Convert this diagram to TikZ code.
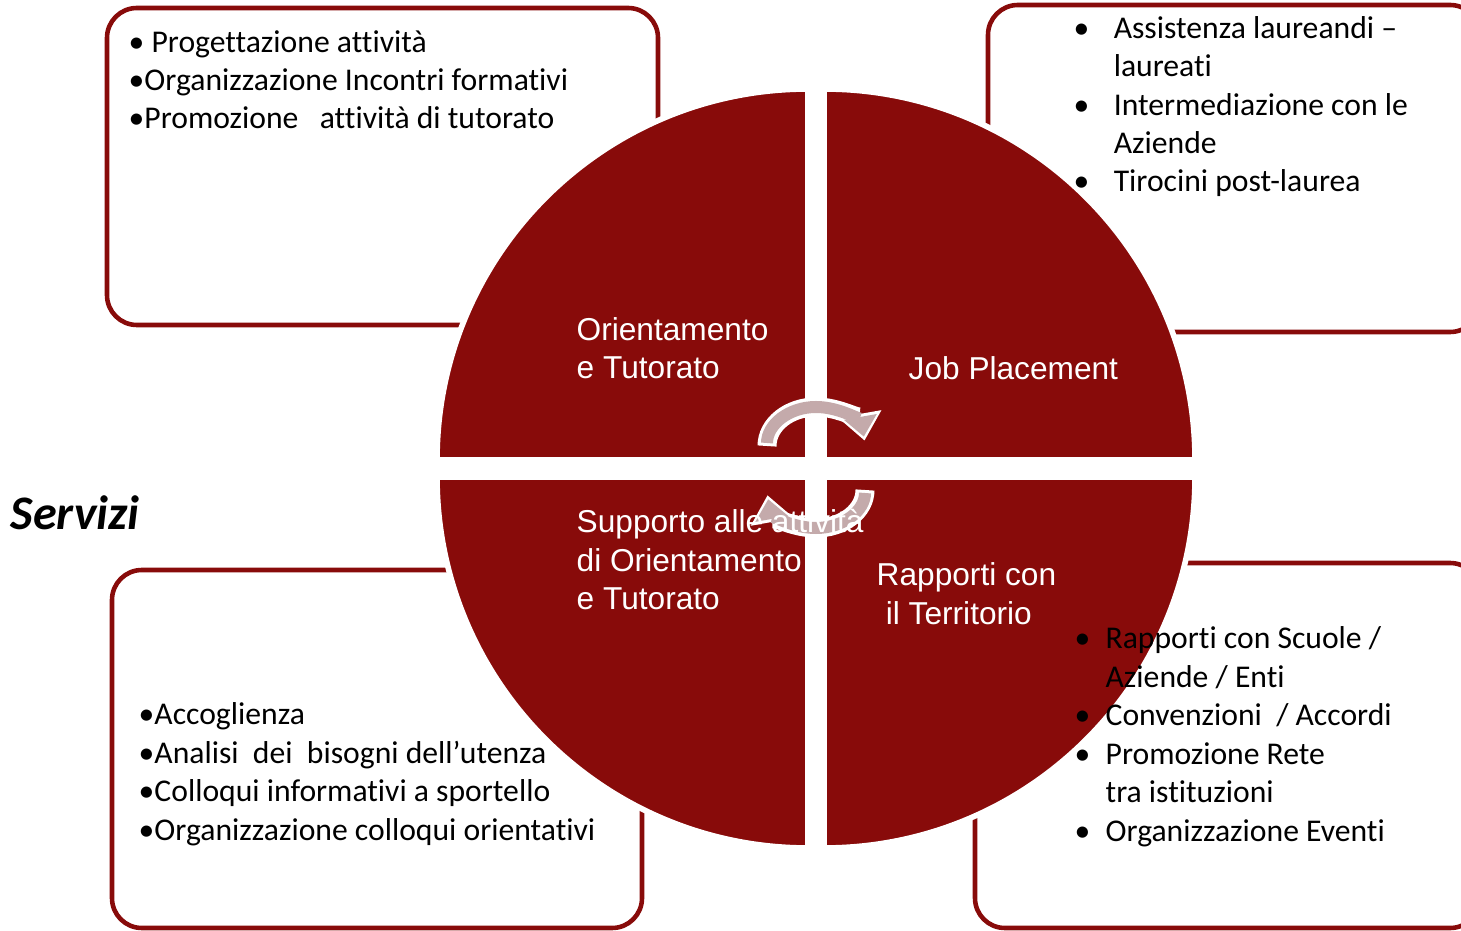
\documentclass[tikz,border=0pt]{standalone}
\usepackage{fontspec}
\setmainfont{Carlito}[Ligatures=NoCommon]
\newfontfamily\arialfont{Liberation Sans}
\usetikzlibrary{arrows.meta}
\definecolor{darkred}{RGB}{136,11,10}
\definecolor{cyclegray}{RGB}{196,170,171}

\begin{document}
\begin{tikzpicture}[x=0.01cm,y=-0.01cm,
        box/.style={draw=darkred,line width=1.3pt,rounded corners=8.5pt},
        quarter/.style={fill=darkred,draw=white,line width=1.6pt},
        listtext/.style={anchor=base west,inner sep=0pt,align=left,
            font=\fontsize{9pt}{10.92pt}\selectfont},
        sectortext/.style={anchor=base west,inner sep=0pt,align=left,text=white,
            font=\arialfont\fontsize{9pt}{11pt}\selectfont},
        cycleout/.style={white,line width=0.19cm,-{Triangle[width=0.42cm,length=0.27cm]}},
        cyclein/.style={cyclegray,line width=0.12cm,shorten <=0.03cm,shorten >=0.04cm,
            -{Triangle[width=0.32cm,length=0.2cm]}}]
        \useasboundingbox (0,0) rectangle (1461,931);

        % boxes behind the circle
        \draw[box] (107,8)   rectangle (658,325);
        \draw[box] (988,5)   rectangle (1480,332);
        \draw[box] (112,570) rectangle (642,928);
        \draw[box] (975,563) rectangle (1480,928);

        % the four quarters
        \draw[quarter] (808,460) -- ++(-371,0) arc[start angle=180,end angle=270,radius=371] -- cycle;
        \draw[quarter] (824,460) -- ++(0,-371) arc[start angle=270,end angle=360,radius=371] -- cycle;
        \draw[quarter] (824,477) -- ++(371,0)  arc[start angle=0,end angle=90,radius=371] -- cycle;
        \draw[quarter] (808,477) -- ++(0,371)  arc[start angle=90,end angle=180,radius=371] -- cycle;

        % cycle arrows
        \draw[cycleout] (767,446) arc[start angle=180,end angle=352,x radius=49,y radius=39];
        \draw[cyclein]  (767,446) arc[start angle=180,end angle=352,x radius=49,y radius=39];
        \draw[cycleout] (865,490) arc[start angle=0,end angle=172,x radius=49,y radius=38];
        \draw[cyclein]  (865,490) arc[start angle=0,end angle=172,x radius=49,y radius=38];

        % sector labels (placed at the baseline of the last line)
        \node[sectortext] (orientamento) at (576,379) {Orientamento\\e Tutorato};
        \node[sectortext] (jobplacement) at (908,380) {Job Placement};
        \node[sectortext] (supporto) at (576,610) {Supporto alle attività\\di Orientamento\\e Tutorato};
        \node[sectortext] (rapporti) at (876,624) {Rapporti con\\\hspace*{2.6pt}il Territorio};

        \node[anchor=base west,inner sep=0pt,font=\bfseries\itshape\fontsize{13.7pt}{16pt}\selectfont]
            (servizi) at (10,530) {Servizi};

        % box lists
        \node[listtext] (listorient) at (128,129)
            {• Progettazione attività\\•Organizzazione Incontri formativi\\•Promozione\ \ \ attività di tutorato};
        \node[listtext] (listjob) at (1073,192)
            {\makebox[11.4pt][l]{•}Assistenza laureandi –\\\hspace*{11.4pt}laureati\\
             \makebox[11.4pt][l]{•}Intermediazione con le\\\hspace*{11.4pt}Aziende\\
             \makebox[11.4pt][l]{•}Tirocini post-laurea};
        \node[listtext] (listsupporto) at (138,840)
            {•Accoglienza\\•Analisi\ \ dei\ \ bisogni dell’utenza\\•Colloqui informativi a sportello\\•Organizzazione colloqui orientativi};
        \node[listtext] (listrapporti) at (1074,841)
            {\makebox[8.8pt][l]{•}Rapporti con Scuole /\\\hspace*{8.8pt}Aziende / Enti\\
             \makebox[8.8pt][l]{•}Convenzioni\ \ / Accordi\\
             \makebox[8.8pt][l]{•}Promozione Rete\\\hspace*{8.8pt}tra istituzioni\\
             \makebox[8.8pt][l]{•}Organizzazione Eventi};
    \end{tikzpicture}
\end{document}
